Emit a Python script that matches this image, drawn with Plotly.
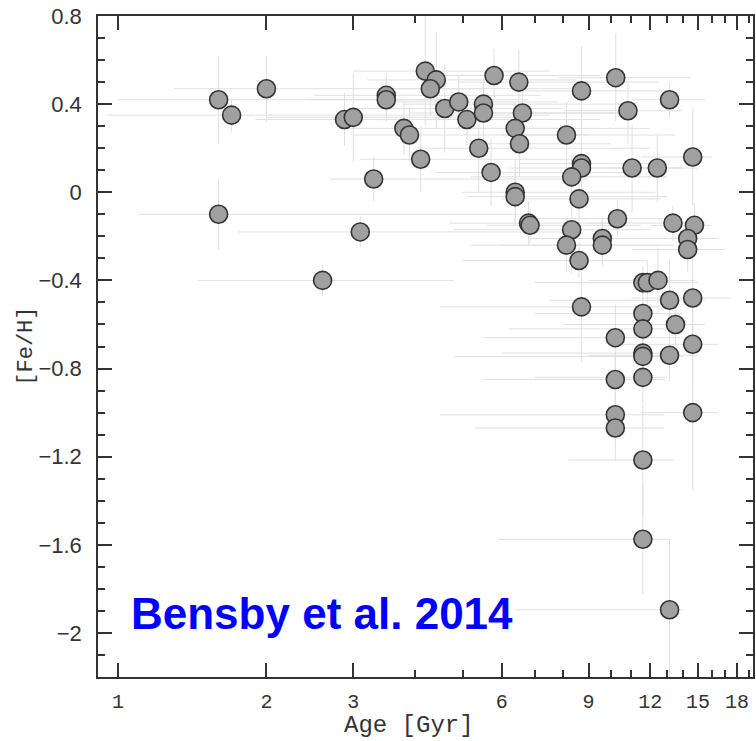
import plotly.graph_objects as go

# Stellar ages [Gyr] and metallicities [Fe/H], with error ranges
age = [1.60, 1.70, 2.00, 2.88, 3.00, 3.50, 3.50, 3.30, 1.60, 3.10, 2.60,
       4.20, 4.42, 4.30, 4.60, 4.91, 5.10, 5.51, 5.51, 5.79, 6.50, 6.61,
       6.39, 6.52, 3.80, 3.90, 4.11, 5.39, 5.71, 6.39, 6.39, 6.80, 6.85,
       8.12, 8.71, 10.22, 13.14, 10.82, 8.71, 8.71, 8.32, 11.03, 12.41,
       14.64, 8.61, 10.30, 8.32, 13.35, 14.76, 14.30, 9.60, 8.12, 9.60,
       14.30, 8.61, 11.60, 11.84, 12.45, 13.14, 14.64, 8.71, 11.60, 11.60,
       13.51, 10.20, 14.64, 11.60, 11.60, 13.14, 10.20, 11.60, 10.20,
       14.64, 10.20, 11.60, 11.60, 13.14]
feh = [0.42, 0.35, 0.47, 0.33, 0.34, 0.44, 0.42, 0.06, -0.10, -0.18, -0.40,
       0.55, 0.51, 0.47, 0.38, 0.41, 0.33, 0.40, 0.36, 0.53, 0.50, 0.36,
       0.29, 0.22, 0.29, 0.26, 0.15, 0.20, 0.09, 0.00, -0.02, -0.14, -0.15,
       0.26, 0.46, 0.52, 0.42, 0.37, 0.13, 0.11, 0.07, 0.11, 0.11,
       0.16, -0.03, -0.12, -0.17, -0.14, -0.15, -0.21, -0.21, -0.24, -0.24,
       -0.26, -0.31, -0.41, -0.41, -0.40, -0.49, -0.48, -0.52, -0.55, -0.62,
       -0.60, -0.66, -0.69, -0.73, -0.745, -0.74, -0.85, -0.84, -1.01,
       -1.00, -1.07, -1.215, -1.575, -1.895]
age_lo = [1.0, 0.95, 1.3, 1.9, 2.0, 2.5, 2.4, 2.7, 1.1, 1.75, 1.45,
          3.0, 3.2, 3.4, 3.0, 3.6, 3.4, 3.8, 3.9, 4.5, 4.9, 5.2,
          4.8, 5.5, 2.8, 3.0, 3.1, 4.0, 4.4, 5.0, 5.1, 4.7, 5.6,
          6.0, 6.6, 7.8, 11.0, 8.0, 6.5, 6.2, 5.2, 8.5, 10.0,
          11.5, 6.0, 7.0, 4.8, 9.0, 12.0, 10.0, 6.8, 5.2, 6.0,
          11.0, 5.0, 7.0, 8.5, 9.0, 7.5, 11.0, 4.5, 7.0, 6.2,
          8.0, 5.5, 10.5, 6.0, 4.8, 9.0, 5.5, 7.0, 4.5,
          11.5, 5.3, 8.2, 5.9, 6.4]
age_hi = [4.6, 7.5, 5.6, 6.0, 6.5, 7.2, 6.8, 9.0, 6.5, 8.0, 4.8,
          7.5, 8.5, 9.0, 8.0, 7.8, 9.5, 10.5, 11.0, 9.5, 12.5, 11.0,
          12.0, 10.0, 8.5, 9.0, 8.3, 12.0, 11.0, 12.3, 13.0, 10.5, 11.5,
          13.5, 13.0, 14.5, 15.5, 14.0, 12.5, 12.0, 13.0, 14.0, 15.0,
          16.0, 12.6, 13.5, 12.0, 15.5, 16.0, 16.5, 13.0, 12.5, 13.5,
          17.0, 11.8, 14.5, 15.0, 14.8, 15.5, 17.5, 12.5, 14.0, 13.5,
          15.5, 13.8, 16.5, 13.5, 14.0, 15.0, 12.9, 13.0, 12.8,
          16.5, 12.8, 13.4, 13.2, 14.0]
feh_err = [0.20, 0.08, 0.15, 0.12, 0.20, 0.10, 0.10, 0.10, 0.16, 0.07, 0.07,
           0.25, 0.22, 0.12, 0.20, 0.12, 0.12, 0.12, 0.12, 0.12, 0.15, 0.10,
           0.12, 0.15, 0.12, 0.12, 0.15, 0.20, 0.15, 0.15, 0.12, 0.10, 0.08,
           0.15, 0.20, 0.20, 0.08, 0.15, 0.12, 0.12, 0.10, 0.20, 0.15,
           0.22, 0.15, 0.08, 0.20, 0.08, 0.10, 0.08, 0.10, 0.12, 0.10,
           0.10, 0.08, 0.08, 0.10, 0.15, 0.18, 0.20, 0.25, 0.10, 0.12,
           0.10, 0.15, 0.15, 0.10, 0.10, 0.12, 0.12, 0.12, 0.12,
           0.35, 0.15, 0.25, 0.25, 0.32]

x_major = [1, 2, 3, 6, 9, 12, 15, 18]
x_minor = [4, 5, 7, 8, 10, 11, 13, 14, 16, 17, 19]
y_major = [-2.0, -1.6, -1.2, -0.8, -0.4, 0.0, 0.4, 0.8]
y_labels = ["\u22122", "\u22121.6", "\u22121.2", "\u22120.8", "\u22120.4", "0", "0.4", "0.8"]

err_plus = [h - a for a, h in zip(age, age_hi)]
err_minus = [a - l for a, l in zip(age, age_lo)]

fig = go.Figure()
fig.add_trace(go.Scatter(
    x=age, y=feh, mode="markers",
    marker=dict(size=18, color="#a0a0a0", line=dict(color="#333333", width=1.6)),
    error_x=dict(type="data", symmetric=False, array=err_plus, arrayminus=err_minus,
                 color="#e0e0e0", thickness=1, width=0),
    error_y=dict(type="data", array=feh_err, color="#e0e0e0", thickness=1, width=0),
    showlegend=False,
))

L, R, T, B = 98, 1, 16, 64
W, H = 756, 741
pw = W - L - R
ph = H - T - B

fig.update_layout(
    width=W, height=H,
    margin=dict(l=L, r=R, t=T, b=B, pad=0),
    paper_bgcolor="white", plot_bgcolor="white",
    xaxis=dict(
        type="log", range=[-0.0405, 1.2878],
        tickmode="array", tickvals=x_major, ticktext=[str(v) for v in x_major],
        ticks="inside", ticklen=14, tickwidth=1.5, tickcolor="#333333",
        showline=True, linecolor="#333333", linewidth=1.5, mirror="ticks",
        showgrid=False, zeroline=False,
        tickfont=dict(family="Liberation Mono, DejaVu Sans Mono, monospace", size=20, color="#333333"),
        ticklabelstandoff=5,
        minor=dict(tickmode="array", tickvals=x_minor, ticks="inside", ticklen=7,
                   tickwidth=1.5, tickcolor="#333333", showgrid=False),
    ),
    yaxis=dict(
        range=[-2.2, 0.8],
        tickmode="array", tickvals=y_major, ticktext=y_labels,
        ticks="inside", ticklen=14, tickwidth=1.5, tickcolor="#333333",
        showline=True, linecolor="#333333", linewidth=1.5, mirror="ticks",
        showgrid=False, zeroline=False,
        tickfont=dict(family="Liberation Sans, Arial, sans-serif", size=22, color="#333333"),
        ticklabelstandoff=10,
        minor=dict(dtick=0.1, tick0=0, ticks="inside", ticklen=7,
                   tickwidth=1.5, tickcolor="#333333", showgrid=False),
    ),
    annotations=[
        dict(text="Age [Gyr]", xref="paper", yref="paper",
             x=(410 - L) / pw, y=-(725 - (T + ph)) / ph,
             xanchor="center", yanchor="middle", showarrow=False,
             font=dict(family="Liberation Mono, DejaVu Sans Mono, monospace", size=24, color="#333333")),
        dict(text="[Fe/H]", xref="paper", yref="paper", textangle=-90,
             x=(26 - L) / pw, y=0.5,
             xanchor="center", yanchor="middle", showarrow=False,
             font=dict(family="Liberation Mono, DejaVu Sans Mono, monospace", size=22, color="#333333")),
        dict(text="<b>Bensby et al. 2014</b>", xref="paper", yref="paper",
             x=(129 - L) / pw, y=((T + ph) - 613) / ph,
             xanchor="left", yanchor="middle", showarrow=False,
             font=dict(family="Liberation Sans, Arial, sans-serif", size=44, color="#0000ff")),
    ],
)

fig.write_html("out.html")
